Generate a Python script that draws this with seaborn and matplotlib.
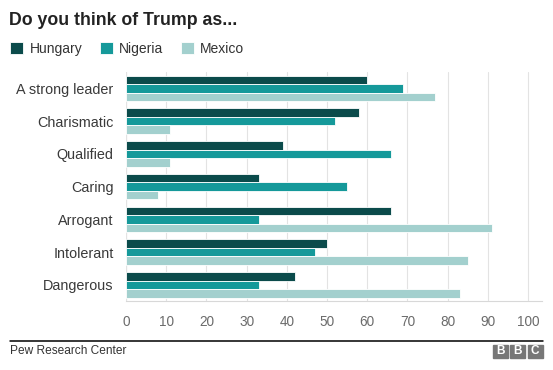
import matplotlib
matplotlib.use("Agg")
import matplotlib.pyplot as plt
from matplotlib.patches import Rectangle
import seaborn as sns
import pandas as pd

categories = ["A strong leader", "Charismatic", "Qualified", "Caring",
              "Arrogant", "Intolerant", "Dangerous"]
hungary = [60, 58, 39, 33, 66, 50, 42]
nigeria = [69, 52, 66, 55, 33, 47, 33]
mexico = [77, 11, 11, 8, 91, 85, 83]
countries = ["Hungary", "Nigeria", "Mexico"]
colors = ["#0b4b4b", "#15999a", "#a3d0ce"]
xticks = [0, 10, 20, 30, 40, 50, 60, 70, 80, 90, 100]

rows = []
for c, vals in zip(countries, [hungary, nigeria, mexico]):
    for cat, v in zip(categories, vals):
        rows.append({"category": cat, "country": c, "value": v})
df = pd.DataFrame(rows)

sns.set_style("white")
plt.rcParams["font.family"] = ["Liberation Sans", "DejaVu Sans"]

fig = plt.figure(figsize=(5.53, 3.70), dpi=100)
ax = fig.add_axes([0.228, 0.186, 0.752, 0.619])

sns.barplot(data=df, y="category", x="value", hue="country",
            order=categories, hue_order=countries, palette=colors,
            orient="h", width=0.78, gap=0, linewidth=0.6, edgecolor="white",
            saturation=1, ax=ax, legend=True)

ax.set_xlim(0, 103.5)
ax.set_ylim(6.5, -0.5)
ax.set_xticks(xticks)
ax.set_xticklabels([str(t) for t in xticks], color="#6b6b6b", fontsize=9.8)
ax.tick_params(axis="x", length=4, color="#dddddd", width=0.8, pad=6)
ax.tick_params(axis="y", length=0, pad=9, labelsize=10.4, labelcolor="#3a3a3a")
ax.set_xlabel("")
ax.set_ylabel("")
ax.grid(axis="x", color="#e3e3e3", linewidth=0.8)
ax.set_axisbelow(True)
for s in ["top", "right", "left"]:
    ax.spines[s].set_visible(False)
ax.spines["bottom"].set_color("#d8d8d8")
ax.spines["bottom"].set_linewidth(0.8)
ax.axvline(0, color="#cccccc", linewidth=0.8, zorder=0)

handles, labels = ax.get_legend_handles_labels()
ax.get_legend().remove()
fig.legend(handles, labels, loc="upper left", bbox_to_anchor=(0.008, 0.902),
           ncol=3, frameon=False, handlelength=0.95, handleheight=0.95,
           handletextpad=0.45, columnspacing=1.25, fontsize=10,
           labelcolor="#333333", borderaxespad=0)

fig.text(0.017, 0.945, "Do you think of Trump as...", fontsize=12.8,
         fontweight="bold", color="#222222", va="center", ha="left")

fig.add_artist(plt.Line2D([0.018, 0.982], [0.079, 0.079], color="black",
                          linewidth=1.1, transform=fig.transFigure))
fig.text(0.018, 0.052, "Pew Research Center", fontsize=8.6, color="#333333",
         va="center", ha="left")

# BBC logo
bx0 = 493
for i, letter in enumerate("BBC"):
    x = bx0 + i * 17.3
    fig.add_artist(Rectangle((x / 553, (370 - 358) / 370), 15 / 553, 13 / 370,
                             transform=fig.transFigure, color="#777777"))
    fig.text((x + 7.5) / 553, (370 - 351.5) / 370, letter, color="white",
             fontsize=8.5, fontweight="bold", ha="center", va="center")

fig.savefig("out.png", dpi=100)
